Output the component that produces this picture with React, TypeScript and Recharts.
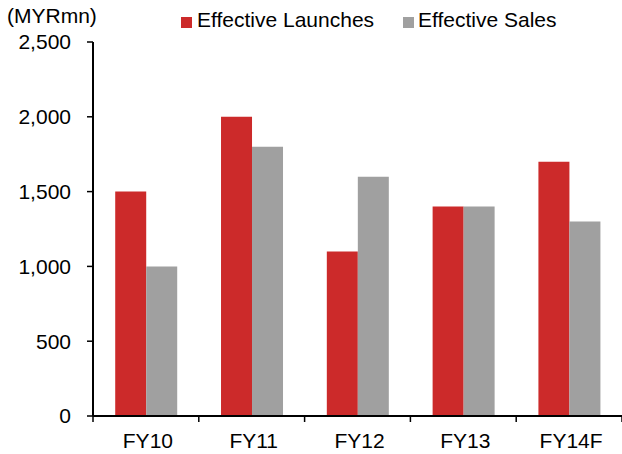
import React from 'react';
import { BarChart, Bar, XAxis, YAxis } from 'recharts';

const categories = ['FY10', 'FY11', 'FY12', 'FY13', 'FY14F'];
const launches = [1500, 2000, 1100, 1400, 1700];
const sales = [1000, 1800, 1600, 1400, 1300];
const yTicks = [0, 500, 1000, 1500, 2000, 2500];
const seriesNames = ['Effective Launches', 'Effective Sales'];

const RED = '#CC2A2A';
const GREY = '#A0A0A0';
const FONT = '"Liberation Sans", Arial, sans-serif';

const W = 622;
const H = 454;
const PLOT_LEFT = 93;
const PLOT_TOP = 42;
const PLOT_BOTTOM = 416;
const BAND = (W - PLOT_LEFT) / categories.length;

const data = categories.map((c, i) => ({ name: c, launches: launches[i], sales: sales[i] }));

const XTick = (props: any) => {
  const { x, payload, index } = props;
  return (
    <g>
      <line x1={x - BAND / 2} x2={x - BAND / 2} y1={PLOT_BOTTOM} y2={PLOT_BOTTOM + 6} stroke="#000" strokeWidth={1.5} />
      {index === categories.length - 1 && (
        <line x1={x + BAND / 2} x2={x + BAND / 2} y1={PLOT_BOTTOM} y2={PLOT_BOTTOM + 6} stroke="#000" strokeWidth={1.5} />
      )}
      <text x={x + 2} y={448} textAnchor="middle" fontSize={21} fill="#000" fontFamily={FONT}>
        {payload.value}
      </text>
    </g>
  );
};

const App: React.FC = () => {
  return (
    <div style={{ position: 'relative', width: W, height: H, fontFamily: FONT }}>
      <style>{`body{margin:0}`}</style>
      <BarChart
        width={W}
        height={H}
        data={data}
        margin={{ top: PLOT_TOP, right: 0, left: 0, bottom: 0 }}
        barCategoryGap="21%"
        barGap={0}
      >
        <XAxis
          dataKey="name"
          height={H - PLOT_BOTTOM}
          tickLine={false}
          tick={<XTick />}
          axisLine={{ stroke: '#000', strokeWidth: 2 }}
          interval={0}
        />
        <YAxis
          width={PLOT_LEFT}
          domain={[0, 2500]}
          ticks={yTicks}
          tickFormatter={(v: number) => v.toLocaleString('en-US')}
          tick={{ fontSize: 21, fill: '#000', fontFamily: FONT }}
          tickSize={6}
          tickMargin={16}
          tickLine={{ stroke: '#000', strokeWidth: 1.5 }}
          axisLine={{ stroke: '#000', strokeWidth: 2 }}
        />
        <Bar dataKey="launches" name={seriesNames[0]} fill={RED} isAnimationActive={false} />
        <Bar dataKey="sales" name={seriesNames[1]} fill={GREY} isAnimationActive={false} />
      </BarChart>
      <svg width={W} height={40} style={{ position: 'absolute', left: 0, top: 0 }}>
        <text x={7} y={23} fontSize={21} fill="#000" fontFamily={FONT}>(MYRmn)</text>
        <rect x={181} y={17} width={11} height={11} fill={RED} />
        <text x={197} y={27} fontSize={21} fill="#000" fontFamily={FONT}>{seriesNames[0]}</text>
        <rect x={403} y={17} width={11} height={11} fill={GREY} />
        <text x={418} y={27} fontSize={21} fill="#000" fontFamily={FONT}>{seriesNames[1]}</text>
      </svg>
    </div>
  );
};

export default App;
